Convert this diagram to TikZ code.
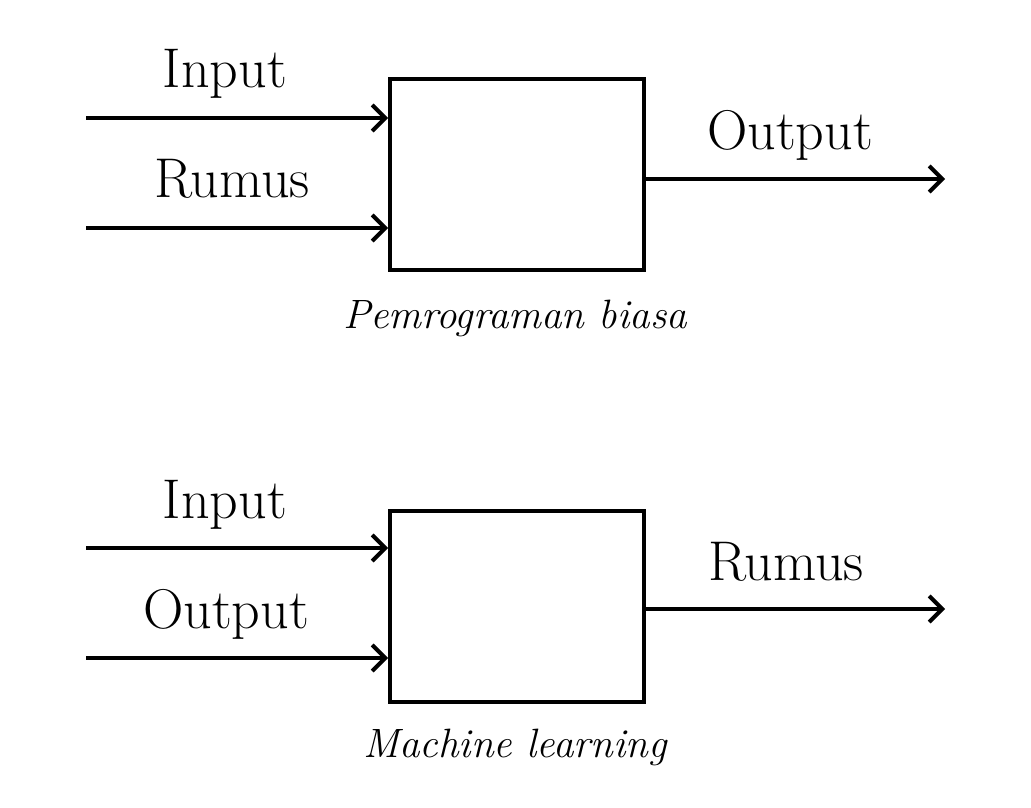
\documentclass[tikz,border=0pt]{standalone}
\usetikzlibrary{arrows.meta}
\tikzset{
  blok/.style={draw, line width=2pt, minimum width=127pt, minimum height=95.5pt, inner sep=0pt},
  panah/.style={line width=2pt, -{Straight Barb[length=6.5pt,width=13pt]}},
  lbl/.style={anchor=base, inner sep=0pt, font=\fontsize{28}{32}\selectfont},
  ket/.style={anchor=base, inner sep=0pt, font=\fontsize{20.5}{24}\selectfont\itshape}
}
\begin{document}
\begin{tikzpicture}[x=0.5pt,y=-0.5pt]
\useasboundingbox (0,0) rectangle (1031,807);
% pemrograman biasa
\node[blok] (biasa) at (517,175){};
\coordinate (in1) at (86,118);
\coordinate (in2) at (86,228);
\coordinate (out1) at (945,179);
\draw[panah] (in1) -- (in1 -| biasa.west);
\draw[panah] (in2) -- (in2 -| biasa.west);
\draw[panah] (out1 -| biasa.east) -- (out1);
\node[lbl] (tin1) at (225,88){Input};
\node[lbl] (tin2) at (232,198){Rumus};
\node[lbl] (tout1) at (790,150){Output};
\node[ket] (kbiasa) at (515,328){Pemrograman biasa};
% machine learning
\node[blok] (ml) at (517,606){};
\coordinate (in3) at (86,548);
\coordinate (in4) at (86,658);
\coordinate (out2) at (945,609);
\draw[panah] (in3) -- (in3 -| ml.west);
\draw[panah] (in4) -- (in4 -| ml.west);
\draw[panah] (out2 -| ml.east) -- (out2);
\node[lbl] (tin3) at (225,518){Input};
\node[lbl] (tin4) at (226,628){Output};
\node[lbl] (tout2) at (786,580){Rumus};
\node[ket] (kml) at (515,757){Machine learning};
\end{tikzpicture}
\end{document}
